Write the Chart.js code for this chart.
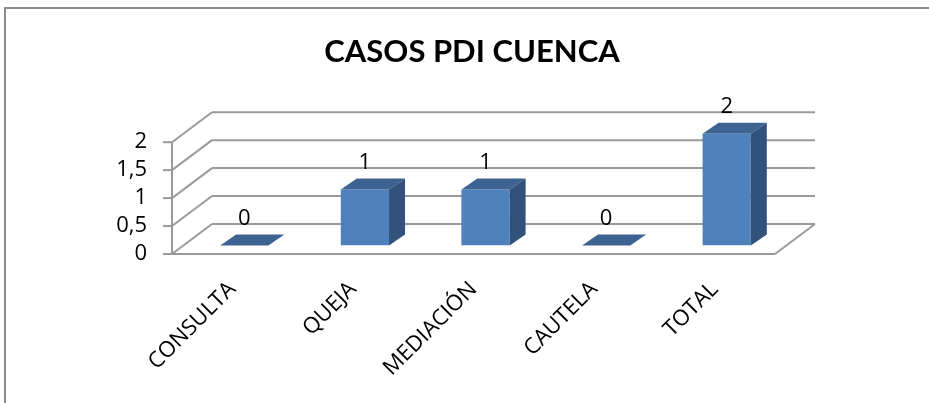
<!DOCTYPE html>
<html>
<head>
<meta charset="utf-8">
<script src="https://cdn.jsdelivr.net/npm/chart.js@4/dist/chart.umd.min.js"></script>
<style>
  body { margin: 0; background: #fff; }
  canvas { display: block; }
</style>
</head>
<body>
<canvas id="casosChart" width="929" height="403"></canvas>
<script>
const categories = ['CONSULTA', 'QUEJA', 'MEDIACIÓN', 'CAUTELA', 'TOTAL'];
const casos = [0, 1, 1, 0, 2];
const yTicks = [0, 0.5, 1, 1.5, 2];

// 3d offsets relative to the plane where the bars stand
const FRONT = { dx: -12, dy: 8.5 };
const BACK = { dx: 28, dy: -21.5 };
const DEPTH = { dx: 16, dy: -11 };
const GRID = '#9a9a9a';
const LABEL_FONT = 'Open Sans';

function line(ctx, x1, y1, x2, y2) {
    ctx.beginPath();
    ctx.moveTo(x1, y1);
    ctx.lineTo(x2, y2);
    ctx.stroke();
}

const box3d = {
    id: 'box3d',
    beforeDraw(chart) {
        const ctx = chart.ctx;
        ctx.save();
        ctx.strokeStyle = '#8c8c8c';
        ctx.lineWidth = 2;
        line(ctx, 5, 7, 5, chart.height);
        line(ctx, 4, 8, chart.width, 8);
        ctx.restore();
    },
    beforeDatasetsDraw(chart) {
        const ctx = chart.ctx;
        const { left, right, top, bottom } = chart.chartArea;
        const y = chart.scales.y;
        ctx.save();
        ctx.strokeStyle = GRID;
        ctx.lineWidth = 2;
        yTicks.forEach(v => {
            const py = y.getPixelForValue(v);
            line(ctx, left + BACK.dx, py + BACK.dy, right + BACK.dx, py + BACK.dy);
            line(ctx, left + FRONT.dx, py + FRONT.dy, left + BACK.dx, py + BACK.dy);
            line(ctx, left + FRONT.dx - 9, py + FRONT.dy, left + FRONT.dx, py + FRONT.dy);
        });
        line(ctx, left + FRONT.dx, top + FRONT.dy, left + FRONT.dx, bottom + FRONT.dy);
        line(ctx, left + FRONT.dx, bottom + FRONT.dy, right + FRONT.dx, bottom + FRONT.dy);
        line(ctx, right + FRONT.dx, bottom + FRONT.dy, right + BACK.dx, bottom + BACK.dy);
        ctx.restore();
    },
    afterDatasetsDraw(chart) {
        const ctx = chart.ctx;
        const meta = chart.getDatasetMeta(0);
        ctx.save();
        meta.data.forEach((bar, i) => {
            const { x, y, base, width } = bar.getProps(['x', 'y', 'base', 'width'], true);
            const l = x - width / 2, r = x + width / 2;
            // top face
            ctx.fillStyle = '#3c6391';
            ctx.beginPath();
            ctx.moveTo(l, y);
            ctx.lineTo(r, y);
            ctx.lineTo(r + DEPTH.dx, y + DEPTH.dy);
            ctx.lineTo(l + DEPTH.dx, y + DEPTH.dy);
            ctx.closePath();
            ctx.fill();
            // side face
            if (base - y > 0.5) {
                ctx.fillStyle = '#33527b';
                ctx.beginPath();
                ctx.moveTo(r, y);
                ctx.lineTo(r + DEPTH.dx, y + DEPTH.dy);
                ctx.lineTo(r + DEPTH.dx, base + DEPTH.dy);
                ctx.lineTo(r, base);
                ctx.closePath();
                ctx.fill();
            }
            // value label
            ctx.fillStyle = '#000';
            ctx.font = '22px "' + LABEL_FONT + '"';
            ctx.textAlign = 'center';
            ctx.textBaseline = 'middle';
            ctx.fillText(String(casos[i]), x, y + DEPTH.dy - 16);
        });
        ctx.restore();
    }
};

const ctx = document.getElementById('casosChart').getContext('2d');

new Chart(ctx, {
    type: 'bar',
    data: {
        labels: categories,
        datasets: [{
            data: casos,
            backgroundColor: '#4f81bd',
            borderWidth: 0,
            barPercentage: 0.4,
            categoryPercentage: 1
        }]
    },
    options: {
        responsive: false,
        animation: false,
        layout: { padding: { left: 15, right: 0, top: 0, bottom: 0 } },
        plugins: {
            legend: { display: false },
            tooltip: { enabled: false },
            title: {
                display: true,
                text: 'CASOS PDI CUENCA',
                color: '#000',
                font: { family: 'Lato', size: 31, weight: 'bold', lineHeight: 1.2 },
                padding: { top: 33, bottom: 63.5 }
            }
        },
        scales: {
            x: {
                grid: { display: false, drawTicks: false },
                border: { display: false },
                ticks: {
                    autoSkip: false,
                    maxRotation: 45,
                    minRotation: 45,
                    labelOffset: -12,
                    padding: 31,
                    color: '#000',
                    font: { family: LABEL_FONT, size: 22 }
                },
                afterFit: s => { s.height = 157.5; }
            },
            y: {
                min: 0,
                max: 2,
                grid: { display: false, drawTicks: false },
                border: { display: false },
                ticks: {
                    autoSkip: false,
                    stepSize: 0.5,
                    labelOffset: 8.5,
                    padding: 37,
                    color: '#000',
                    font: { family: LABEL_FONT, size: 22 },
                    callback: v => String(v).replace('.', ',')
                },
                afterFit: s => { s.width = 169; }
            },
            yRight: {
                position: 'right',
                display: true,
                grid: { display: false, drawTicks: false },
                border: { display: false },
                ticks: { display: false },
                afterFit: s => { s.width = 142; }
            }
        }
    },
    plugins: [box3d]
});
</script>
</body>
</html>
